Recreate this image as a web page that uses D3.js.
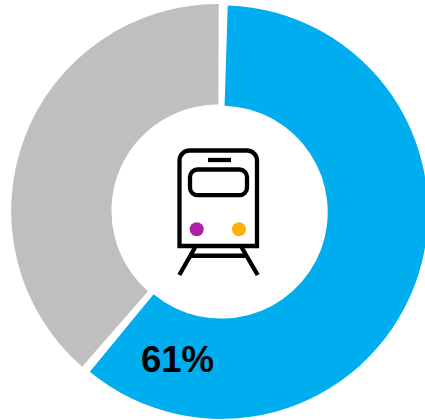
<!DOCTYPE html>
<html>
<head>
<meta charset="utf-8">
<script src="https://cdn.jsdelivr.net/npm/d3@7/dist/d3.min.js"></script>
<style>
html,body{margin:0;padding:0;background:#fff;overflow:hidden}
svg{display:block}
</style>
</head>
<body>
<script>
const categories = ["Rail", "Other"];
const shares = [61, 39];
const sliceColors = ["#00adef", "#bfbfbf"];
const shareLabel = "61%";

const width = 425, height = 420;
const cx = 219.6, cy = 211.5;
const outerR = 206.8, innerR = 106.5;
const explode = 1.75;
const deg = Math.PI / 180;

const svg = d3.select("body").append("svg")
  .attr("width", width).attr("height", height);

// Slices get a small angular gap and are pushed apart along their mid-angle
const pie = d3.pie().sort(null)
  .startAngle(1 * deg).endAngle(361 * deg)
  .padAngle(1.6 * deg);
const arc = d3.arc()
  .innerRadius(innerR).outerRadius(outerR)
  .startAngle(d => d.startAngle + d.padAngle / 2)
  .endAngle(d => d.endAngle - d.padAngle / 2)
  .padAngle(0);

svg.append("g").attr("transform", `translate(${cx},${cy})`)
  .selectAll("path")
  .data(pie(shares))
  .join("path")
  .attr("d", arc)
  .attr("fill", (d, i) => sliceColors[i])
  .attr("transform", d => {
    const mid = (d.startAngle + d.endAngle) / 2;
    return `translate(${explode * Math.sin(mid)},${-explode * Math.cos(mid)})`;
  });

svg.append("text")
  .attr("x", 177.5).attr("y", 371.5)
  .attr("text-anchor", "middle")
  .attr("font-family", "Liberation Sans, Arial, sans-serif")
  .attr("font-weight", "bold")
  .attr("font-size", 36.5)
  .attr("fill", "#000")
  .text(shareLabel);

// Train pictogram in the hole of the ring
const icon = svg.append("g")
  .attr("fill", "none").attr("stroke", "#000").attr("stroke-width", 4.3);

icon.append("path")
  .attr("d", "M179.5,246 V160.5 A10,10 0 0 1 189.5,150.5 H247 A10,10 0 0 1 257,160.5 V246 Z")
  .attr("fill", "#fff");
icon.append("rect")
  .attr("x", 190).attr("y", 169.5).attr("width", 57).attr("height", 25.7).attr("rx", 7.5);
icon.append("line").attr("x1", 208).attr("x2", 231).attr("y1", 160).attr("y2", 160);
icon.append("line").attr("x1", 191).attr("x2", 246).attr("y1", 255.7).attr("y2", 255.7).attr("stroke-width", 4.6);
icon.append("line").attr("x1", 195).attr("y1", 247.5).attr("x2", 179.3).attr("y2", 275);
icon.append("line").attr("x1", 241.7).attr("y1", 247.5).attr("x2", 257.7).attr("y2", 275);

icon.append("circle").attr("cx", 196.7).attr("cy", 229.3).attr("r", 7)
  .attr("fill", "#b01fa8").attr("stroke", "none");
icon.append("circle").attr("cx", 239).attr("cy", 229.3).attr("r", 7)
  .attr("fill", "#ffb000").attr("stroke", "none");
</script>
</body>
</html>
